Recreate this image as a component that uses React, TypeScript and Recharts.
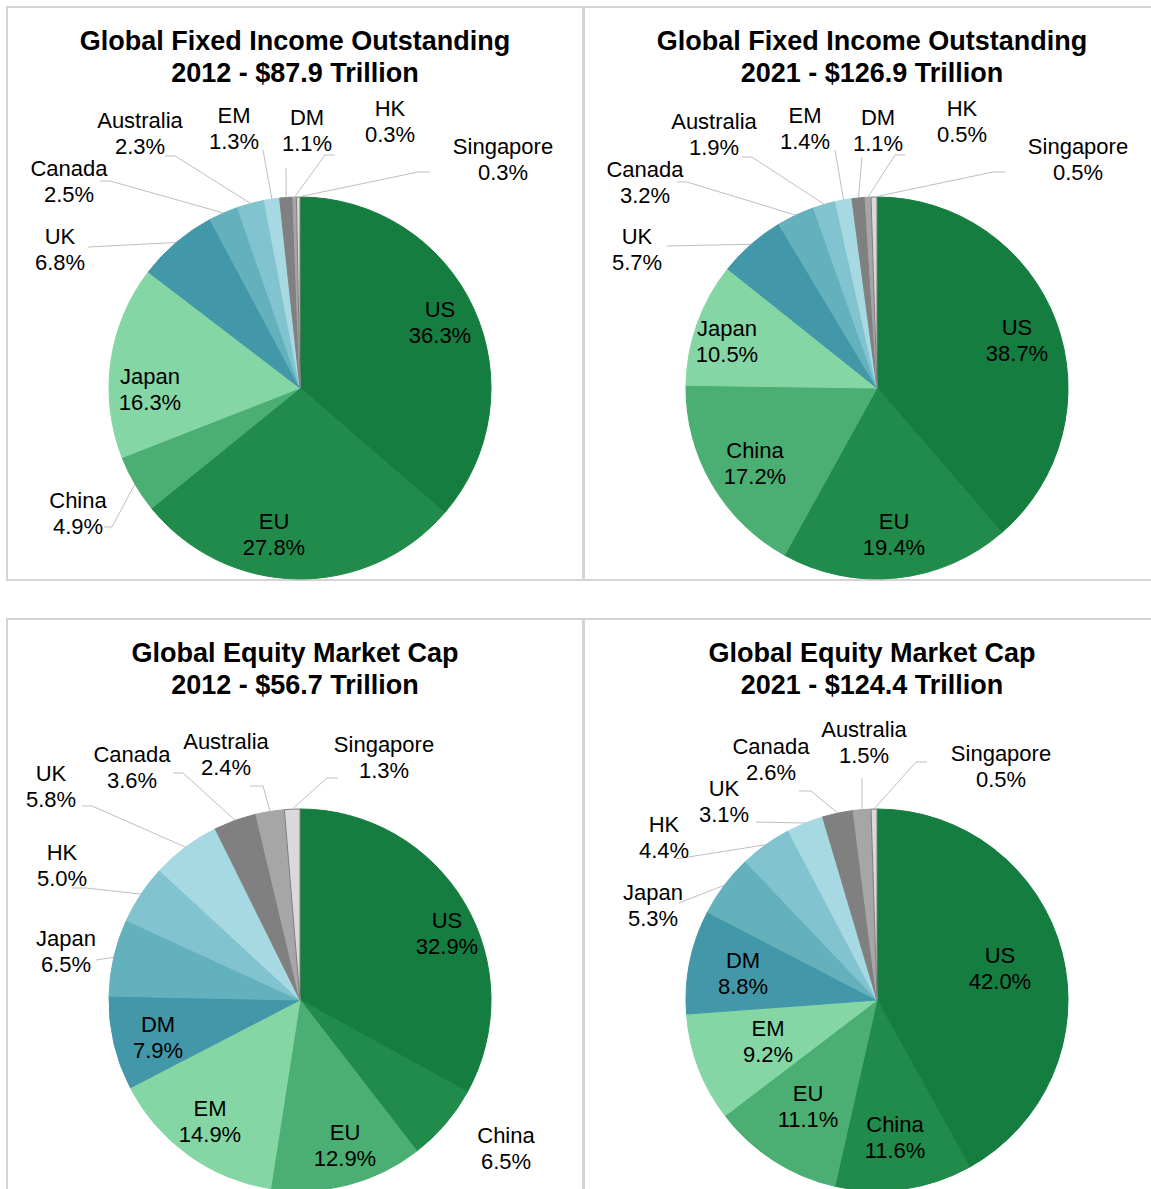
import React from "react";
import { PieChart, Pie, Cell } from "recharts";

// values (percent of total)
const fi2012Names = ["US", "EU", "China", "Japan", "UK", "Canada", "Australia", "EM", "DM", "HK", "Singapore"];
const fi2012Values = [36.3, 27.8, 4.9, 16.3, 6.8, 2.5, 2.3, 1.3, 1.1, 0.3, 0.3];

const fi2021Names = ["US", "EU", "China", "Japan", "UK", "Canada", "Australia", "EM", "DM", "HK", "Singapore"];
const fi2021Values = [38.7, 19.4, 17.2, 10.5, 5.7, 3.2, 1.9, 1.4, 1.1, 0.5, 0.5];

const eq2012Names = ["US", "China", "EU", "EM", "DM", "Japan", "HK", "UK", "Canada", "Australia", "Singapore"];
const eq2012Values = [32.9, 6.5, 12.9, 14.9, 7.9, 6.5, 5.0, 5.8, 3.6, 2.4, 1.3];

const eq2021Names = ["US", "China", "EU", "EM", "DM", "Japan", "HK", "UK", "Canada", "Australia", "Singapore"];
const eq2021Values = [42.0, 11.6, 11.1, 9.2, 8.8, 5.3, 4.4, 3.1, 2.6, 1.5, 0.5];

// slice colours by position
const palette = [
  "#147d3f", "#218b4b", "#4bae72", "#84d6a4", "#4297a8", "#64b1be",
  "#81c3ce", "#a6d9e2", "#808080", "#a6a6a6", "#d9d9d9",
];

const FONT = '"Liberation Sans", Arial, Helvetica, sans-serif';
const PANEL_W = 578;
const PANEL_H = 575;
const CX = 294;
const CY = 382;
const R = 191;

type LabelPos = { at: [number, number]; from?: [number, number]; hook?: number };
type Layout = Record<string, LabelPos>;

// label placement relative to the pie centre (from: start of leader line)
const fi2012Layout: Layout = {
  US: { at: [140, -66] },
  EU: { at: [-26, 146] },
  China: { at: [-222, 125], from: [-196, 139], hook: 8 },
  Japan: { at: [-150, 1] },
  UK: { at: [-240, -139], from: [-212, -141], hook: 0 },
  Canada: { at: [-231, -207], from: [-200, -207], hook: 10 },
  Australia: { at: [-160, -255], from: [-135, -232], hook: 10 },
  EM: { at: [-66, -260], from: [-37, -238], hook: 0 },
  DM: { at: [7, -258], from: [-14, -220], hook: 0 },
  HK: { at: [90, -267], from: [35, -233], hook: -10 },
  Singapore: { at: [203, -229], from: [130, -216], hook: -12 },
};

const fi2021Layout: Layout = {
  US: { at: [140, -48] },
  EU: { at: [17, 146] },
  China: { at: [-122, 75] },
  Japan: { at: [-150, -47] },
  UK: { at: [-240, -139], from: [-210, -142], hook: 0 },
  Canada: { at: [-232, -206], from: [-200, -206], hook: 10 },
  Australia: { at: [-163, -254], from: [-135, -231], hook: 10 },
  EM: { at: [-72, -260], from: [-42, -238], hook: 0 },
  DM: { at: [1, -258], from: [-15, -231], hook: 0 },
  HK: { at: [85, -267], from: [28, -233], hook: -10 },
  Singapore: { at: [201, -229], from: [128, -216], hook: -12 },
};

const eq2012Layout: Layout = {
  US: { at: [147, -67] },
  China: { at: [206, 148] },
  EU: { at: [45, 145] },
  EM: { at: [-90, 121] },
  DM: { at: [-142, 37] },
  Japan: { at: [-234, -49], from: [-204, -40], hook: 0 },
  HK: { at: [-238, -135], from: [-228, -112], hook: 14 },
  UK: { at: [-249, -214], from: [-218, -194], hook: 10 },
  Canada: { at: [-168, -233], from: [-127, -227], hook: 10 },
  Australia: { at: [-74, -246], from: [-50, -214], hook: 13 },
  Singapore: { at: [84, -243], from: [38, -222], hook: -11 },
};

const eq2021Layout: Layout = {
  US: { at: [123, -32] },
  China: { at: [18, 137] },
  EU: { at: [-69, 106] },
  EM: { at: [-109, 41] },
  DM: { at: [-134, -27] },
  Japan: { at: [-224, -95], from: [-198, -97], hook: 0 },
  HK: { at: [-213, -163], from: [-201, -141], hook: 0 },
  UK: { at: [-153, -199], from: [-121, -178], hook: 0 },
  Canada: { at: [-106, -241], from: [-78, -209], hook: 12 },
  Australia: { at: [-13, -258], from: [-15, -222], hook: 0 },
  Singapore: { at: [124, -234], from: [50, -238], hook: -11 },
};

const RAD = Math.PI / 180;

function makeLabel(layout: Layout) {
  return (props: any) => {
    const name = props.name ?? props.payload?.name;
    const value = props.value ?? props.payload?.value;
    const pos = layout[name];
    if (!pos) return null;
    const { cx, cy, midAngle, outerRadius } = props;
    const x = cx + pos.at[0];
    const y = cy + pos.at[1];
    let line = null;
    if (pos.from) {
      const ex = cx + outerRadius * Math.cos(-midAngle * RAD);
      const ey = cy + outerRadius * Math.sin(-midAngle * RAD);
      const sx = cx + pos.from[0];
      const sy = cy + pos.from[1];
      const hx = sx + (pos.hook ?? 0);
      line = (
        <polyline
          points={`${sx},${sy} ${hx},${sy} ${ex},${ey}`}
          fill="none"
          stroke="#bfbfbf"
          strokeWidth={1}
        />
      );
    }
    return (
      <g>
        {line}
        <text
          x={x}
          y={y}
          textAnchor="middle"
          fill="#000"
          fontSize={22}
          fontFamily={FONT}
        >
          <tspan x={x} y={y - 13} dominantBaseline="central">{name}</tspan>
          <tspan x={x} y={y + 13} dominantBaseline="central">{`${Number(value).toFixed(1)}%`}</tspan>
        </text>
      </g>
    );
  };
}

interface PanelProps {
  left: number;
  top: number;
  title1: string;
  title2: string;
  names: string[];
  values: number[];
  layout: Layout;
}

const Panel: React.FC<PanelProps> = ({ left, top, title1, title2, names, values, layout }) => {
  const data = names.map((n, i) => ({ name: n, value: values[i] }));
  return (
    <div
      style={{
        position: "absolute",
        left,
        top,
        width: PANEL_W,
        height: PANEL_H,
        border: "2px solid #d4d4d4",
        boxSizing: "border-box",
        background: "#fff",
      }}
    >
      <div
        style={{
          position: "absolute",
          left: -2,
          top: 17,
          width: PANEL_W,
          textAlign: "center",
          fontFamily: FONT,
          fontWeight: "bold",
          fontSize: 27,
          lineHeight: "32px",
          color: "#000",
        }}
      >
        {title1}
        <br />
        {title2}
      </div>
      <div style={{ position: "absolute", left: -2, top: -2 }}>
        <PieChart width={PANEL_W} height={PANEL_H} margin={{ top: 0, right: 0, bottom: 0, left: 0 }}>
          <Pie
            data={data}
            dataKey="value"
            nameKey="name"
            cx={CX}
            cy={CY}
            outerRadius={R}
            startAngle={90}
            endAngle={-270}
            isAnimationActive={false}
            labelLine={false}
            label={makeLabel(layout)}
          >
            {data.map((d, i) => (
              <Cell
                key={d.name}
                fill={palette[i]}
                stroke={i === 10 ? "#7f7f7f" : palette[i]}
                strokeWidth={1}
              />
            ))}
          </Pie>
        </PieChart>
      </div>
    </div>
  );
};

export default function App() {
  return (
    <div
      style={{
        position: "absolute",
        left: 0,
        top: 0,
        width: 1151,
        height: 1189,
        overflow: "hidden",
        background: "#fff",
      }}
    >
      <Panel
        left={6}
        top={6}
        title1="Global Fixed Income Outstanding"
        title2="2012 - $87.9 Trillion"
        names={fi2012Names}
        values={fi2012Values}
        layout={fi2012Layout}
      />
      <Panel
        left={583}
        top={6}
        title1="Global Fixed Income Outstanding"
        title2="2021 - $126.9 Trillion"
        names={fi2021Names}
        values={fi2021Values}
        layout={fi2021Layout}
      />
      <Panel
        left={6}
        top={618}
        title1="Global Equity Market Cap"
        title2="2012 - $56.7 Trillion"
        names={eq2012Names}
        values={eq2012Values}
        layout={eq2012Layout}
      />
      <Panel
        left={583}
        top={618}
        title1="Global Equity Market Cap"
        title2="2021 - $124.4 Trillion"
        names={eq2021Names}
        values={eq2021Values}
        layout={eq2021Layout}
      />
    </div>
  );
}
